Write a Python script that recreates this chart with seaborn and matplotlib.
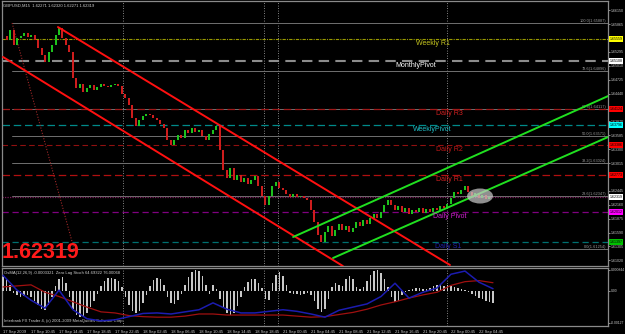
import matplotlib
matplotlib.use("Agg")
import matplotlib.pyplot as plt
import matplotlib.transforms as mtransforms
from matplotlib.patches import Ellipse
import numpy as np
import pandas as pd
import seaborn as sns

# ---------------- data ----------------
closes = [
    1.65620, 1.65538, 1.65743, 1.65436, 1.65579, 1.65620, 1.65682, 1.65600, 1.65641, 1.65538,
    1.65374, 1.65231, 1.65087, 1.65292, 1.65436, 1.65641, 1.65784, 1.65579, 1.65436, 1.65292,
    1.64759, 1.64554, 1.64636, 1.64472, 1.64554, 1.64616, 1.64513, 1.64575, 1.64636, 1.64595,
    1.64575, 1.64616, 1.64636, 1.64595, 1.64431, 1.64349, 1.64206, 1.63939, 1.63775, 1.63898,
    1.63980, 1.64021, 1.64001, 1.63939, 1.63898, 1.63816, 1.63734, 1.63488, 1.63386, 1.63488,
    1.63591, 1.63529, 1.63693, 1.63632, 1.63734, 1.63652, 1.63693, 1.63570, 1.63488, 1.63611,
    1.63693, 1.63775, 1.63283, 1.62873, 1.62709, 1.62914, 1.62668, 1.62771, 1.62627, 1.62709,
    1.62586, 1.62668, 1.62750, 1.62545, 1.62340, 1.62156, 1.62340, 1.62545, 1.62627, 1.62504,
    1.62463, 1.62381, 1.62320, 1.62381, 1.62320, 1.62340, 1.62299, 1.62258, 1.62053, 1.61807,
    1.61541, 1.61397, 1.61602, 1.61725, 1.61520, 1.61643, 1.61766, 1.61643, 1.61725, 1.61602,
    1.61684, 1.61807, 1.61725, 1.61848, 1.61766, 1.61889, 1.61971, 1.61889, 1.62012, 1.62156,
    1.62258, 1.62156, 1.62053, 1.62135, 1.62012, 1.62094, 1.61971, 1.62053, 1.62012, 1.62094,
    1.61992, 1.62074, 1.62012, 1.62094, 1.62053, 1.62135, 1.62094, 1.62176, 1.62299, 1.62422,
    1.62381, 1.62463, 1.62545, 1.62422, 1.62340, 1.62402, 1.62299, 1.62361, 1.62279, 1.62320,
    1.62319,
]
last_ohlc = [1.62271, 1.62320, 1.62271, 1.62319]

osma = [
    0.00056, 0.00048, 0.00024,
    -0.00008, -0.00016, -0.00024, -0.00020, -0.00016, -0.00024, -0.00040, -0.00056,
    -0.00072, -0.00076, -0.00056, -0.00024,
    0.00020, 0.00048, 0.00056, 0.00032,
    -0.00024, -0.00072, -0.00096, -0.00104, -0.00100, -0.00088, -0.00064, -0.00040, -0.00012,
    0.00020, 0.00040, 0.00052, 0.00052, 0.00048, 0.00040, 0.00016,
    -0.00024, -0.00056, -0.00080, -0.00088, -0.00080, -0.00048, -0.00016,
    0.00020, 0.00044, 0.00052, 0.00048, 0.00024,
    -0.00024, -0.00048, -0.00052, -0.00036, -0.00012,
    0.00024, 0.00056, 0.00076, 0.00084, 0.00080, 0.00060, 0.00024,
    -0.00012,
    0.00024, 0.00008,
    -0.00032, -0.00064, -0.00088, -0.00096, -0.00088, -0.00060, -0.00024,
    0.00016, 0.00036, 0.00048, 0.00048, 0.00032, 0.00012,
    -0.00032, -0.00036,
    0.00032, 0.00064, 0.00076, 0.00060, 0.00024,
    -0.00008, -0.00012, -0.00012, -0.00016, -0.00012, -0.00008, -0.00016,
    -0.00040, -0.00072, -0.00084, -0.00072, -0.00032,
    0.00016, 0.00032, 0.00024,
    0.00020, 0.00048, 0.00060, 0.00048, 0.00016,
    0.00008,
    0.00016, 0.00040, 0.00064, 0.00080, 0.00084, 0.00072, 0.00048, 0.00016,
    -0.00024, -0.00044, -0.00040, -0.00016,
    -0.00004, 0.00004,
    0.00008, 0.00012, 0.00012, 0.00008, 0.00008,
    0.00012, 0.00020, 0.00024, 0.00024, 0.00020, 0.00024, 0.00020, 0.00016, 0.00012, 0.00008, 0.00004,
    -0.00004, -0.00012, -0.00020, -0.00028, -0.00032, -0.00040, -0.00044, -0.00048,
]

stoch_idx = [0, 4, 8, 12, 16, 20, 24, 28, 32, 36, 40, 44, 48, 52, 56, 60, 64, 68,
             72, 76, 80, 84, 88, 92, 96, 100, 104, 108, 112, 116, 120, 124, 128, 132, 136, 140]
stoch_main = [90, 62, 43, 28, 62, 25, 8, 4, 6, 12, 18, 19, 17, 21, 25, 38, 26, 19,
              19, 22, 25, 22, 17, 11, 24, 30, 36, 50, 75, 47, 58, 66, 92, 98, 77, 64.69]
stoch_signal = [68, 70, 72, 58, 50, 40, 30, 21, 19, 14, 12, 11, 11, 13, 17, 17, 15, 15,
                15, 15, 15, 13, 11, 12, 16, 20, 26, 34, 40, 47, 53, 58, 71, 78, 80, 76.0]

time_labels = ["17 Sep 2009", "17 Sep 10:45", "17 Sep 14:45", "17 Sep 18:45", "17 Sep 22:45",
               "18 Sep 02:45", "18 Sep 06:45", "18 Sep 10:45", "18 Sep 14:45", "18 Sep 18:45",
               "21 Sep 00:45", "21 Sep 04:45", "21 Sep 08:45", "21 Sep 12:45", "21 Sep 16:45",
               "21 Sep 20:45", "22 Sep 00:45", "22 Sep 04:45"]
time_label_idx = [0, 8, 16, 24, 32, 40, 48, 56, 64, 72, 80, 88, 96, 104, 112, 120, 128, 136]

# ticks whose labels are not hidden behind the price boxes
price_ticks = [1.66150, 1.65865, 1.65295, 1.65010, 1.64725, 1.64440,
               1.63870, 1.63585, 1.63300, 1.63015, 1.62730, 1.62445, 1.62160, 1.61875,
               1.61590, 1.61305, 1.61020]
osma_ticks = [0.000844, 0.0, -0.00127]
osma_tick_labels = ["0.000844", "0.00", "-0.00127"]

pivot_names = ["Weekly R1", "MonthlyPivot", "Daily R3", "WeeklyPivot",
               "Daily R2", "Daily R1", "Daily Pivot", "Daily S1"]
pivot_prices = [1.65559, 1.65108, 1.64124, 1.63796, 1.63386, 1.62773, 1.62012, 1.61397]

fib_levels = ["100.0", "78.6", "61.8", "50.0", "38.2", "23.6", "0.0"]
fib_prices = [1.65887, 1.64896, 1.64117, 1.63571, 1.63024, 1.62347, 1.61254]
fib_anchor_idx = [2.6, 20.3]

last_price = 1.62319
red_channel = [[(15.7, 1.65804), (127.7, 1.60926)], [(0.0, 1.65190), (97.1, 1.60905)]]
green_channel = [[(82.9, 1.61500), (172.9, 1.64390)], [(94.3, 1.61069), (172.9, 1.63550)]]
session_marks = [34.3, 74.6, 78.6, 126.9]
ellipse_center = (136.3, 1.62340)
ellipse_size = (7.4, 0.00308)

# ---------------- style ----------------
sns.set_style("dark", {"axes.facecolor": "black", "figure.facecolor": "black"})
plt.rcParams["font.family"] = ["Liberation Sans", "DejaVu Sans"]

W, H = 625, 334
fig = plt.figure(figsize=(W / 100, H / 100), dpi=100, facecolor="black")
ax = fig.add_axes([2 / W, (H - 266) / H, 606 / W, 265 / H])
axi = fig.add_axes([2 / W, (H - 326) / H, 606 / W, 58 / H])

XMIN, XMAX = -0.286, 172.86
frame = "#8a8a8a"
for a in (ax, axi):
    a.set_facecolor("black")
    a.set_xlim(XMIN, XMAX)
    for s in a.spines.values():
        s.set_color(frame)
        s.set_linewidth(0.9)
    a.grid(False)

ax.set_ylim(1.60905, 1.66338)
axi.set_ylim(-0.0014, 0.00092)

# ---------------- main panel ----------------
df = pd.DataFrame({"i": np.arange(len(closes)), "close": closes})
df["open"] = df["close"].shift(1).fillna(df["close"])
df["lo"] = df[["open", "close"]].min(axis=1) - 0.00004
df["hi"] = df[["open", "close"]].max(axis=1) + 0.00004
df["col"] = np.where(df["close"] >= df["open"], "#1ec81e", "#d41e1e")
ax.vlines(df["i"], df["lo"], df["hi"], colors=df["col"], lw=1.4, zorder=4)

# fibonacci
for lvl, p in zip(fib_levels, fib_prices):
    ax.plot([fib_anchor_idx[0], XMAX], [p, p], color="#707070", lw=0.7, zorder=2)
    ax.text(XMAX - 0.4, p, f"{lvl}({p:.5f})", color="#9a9a9a", fontsize=2.8,
            ha="right", va="bottom", zorder=3)
ax.plot(fib_anchor_idx, [fib_prices[0], fib_prices[-1]], color="#a02828",
        ls=(0, (1, 1.5)), lw=0.8, zorder=3)

# pivots
piv_style = [
    ("#9a9a00", (0, (3, 1, 1, 1)), 0.8, "#c8c820", "#ffff00"),
    ("#8c8c8c", (0, (5, 3)), 1.5, "#ffffff", "#ffffff"),
    ("#a01818", (0, (6, 3)), 0.9, "#d02020", "#ff0000"),
    ("#008a8a", (0, (6, 3)), 0.9, "#20c0c8", "#00ffff"),
    ("#901010", (0, (5, 3)), 0.8, "#c01818", "#ff0000"),
    ("#b01010", (0, (6, 3)), 0.9, "#d02020", "#ff0000"),
    ("#800080", (0, (5, 3)), 0.9, "#d020d0", "#ff00ff"),
    ("#007070", (0, (5, 3)), 0.9, "#2020a8", "#00c000"),
]
label_x = [118.0, 112.0, 123.7, 117.1, 123.7, 123.7, 122.9, 123.4]
off = mtransforms.offset_copy(ax.transData, fig=fig, x=0, y=-1.2, units="dots")
for name, p, st, lx in zip(pivot_names, pivot_prices, piv_style, label_x):
    lc, ls, lw, tc, bc = st
    ax.axhline(p, color=lc, ls=ls, lw=lw, zorder=2)
    ax.text(lx, p, name, color=tc, fontsize=5, ha="left", va="top",
            transform=off, zorder=6)

ax.axhline(last_price, color="#7a1a5a", ls=(0, (1, 1)), lw=0.9, zorder=2)

# channels
for seg in red_channel:
    (x0, y0), (x1, y1) = seg
    ax.plot([x0, x1], [y0, y1], color="#ff1010", lw=1.4, zorder=5)
for seg in green_channel:
    (x0, y0), (x1, y1) = seg
    ax.plot([x0, x1], [y0, y1], color="#20e020", lw=1.4, zorder=5)

ax.add_patch(Ellipse(ellipse_center, ellipse_size[0], ellipse_size[1],
                     fc="#c8c8c8", ec="none", alpha=0.72, zorder=7))

for m in session_marks:
    ax.axvline(m, color="#b0b0b0", ls=(0, (1, 2)), lw=0.6, zorder=1)
    axi.axvline(m, color="#b0b0b0", ls=(0, (1, 2)), lw=0.6, zorder=1)

# axis ticks
ax.set_xticks([])
ax.yaxis.tick_right()
ax.set_yticks(price_ticks)
ax.set_yticklabels([f"{v:.5f}" for v in price_ticks])
ax.tick_params(axis="y", labelsize=2.6, colors="#c8c8c8", length=1.5, width=0.5, pad=0.8)

# price boxes at right
bt = mtransforms.blended_transform_factory(ax.transAxes, ax.transData)
box_prices = pivot_prices + [last_price]
box_cols = [s[4] for s in piv_style] + ["#ffffff"]
for p, c in zip(box_prices, box_cols):
    ax.text(1.0022, p, f"{p:.5f}", transform=bt, fontsize=2.6, color="black",
            ha="left", va="center", clip_on=False, zorder=10,
            bbox=dict(boxstyle="square,pad=0.2", fc=c, ec="none"))

# texts
fig.text(3 / W, 1 - 5.5 / H,
         "GBPUSD,M15  " + " ".join(f"{v:.5f}" for v in last_ohlc),
         color="#d0d0d0", fontsize=3, ha="left", va="center")
fig.text(2 / W, 1 - 252 / H, f"{last_price:.5f}", color="#ff1a1a", fontsize=15.5,
         fontweight="bold", ha="left", va="center")

# ---------------- indicator panel ----------------
axi.bar(np.arange(len(osma)), osma, width=0.55, color="#c8c8c8", linewidth=0, zorder=3)
axs = axi.twinx()
axs.set_xlim(XMIN, XMAX)
axs.set_ylim(-5.66, 103.77)
sdf = pd.DataFrame({"i": stoch_idx, "main": stoch_main, "signal": stoch_signal})
sns.lineplot(data=sdf, x="i", y="signal", ax=axs, color="#a01010", lw=0.9, zorder=4)
sns.lineplot(data=sdf, x="i", y="main", ax=axs, color="#1c1cb0", lw=1.1, zorder=5)
axs.set_yticks([])
axs.set_ylabel("")
axs.set_xlabel("")
for s in axs.spines.values():
    s.set_visible(False)
axs.grid(False)

axi.yaxis.tick_right()
axi.set_yticks(osma_ticks)
axi.set_yticklabels(osma_tick_labels)
axi.tick_params(axis="y", labelsize=2.4, colors="#c8c8c8", length=1.5, width=0.5, pad=0.8)
axi.set_xticks(time_label_idx)
axi.set_xticklabels(time_labels, ha="left")
axi.tick_params(axis="x", labelsize=3, colors="#c8c8c8", length=2, width=0.5, pad=1)

axi.text(0.003, 0.95, "OsMA(12,26,9) -0.0003321  Zero Lag Stoch 64.69322 76.00068",
         transform=axi.transAxes, color="#d0d0d0", fontsize=3, ha="left", va="top", zorder=8)
axi.text(0.003, 0.06, "Interbank FX Trader 4, (c) 2001-2009 MetaQuotes Software Corp.",
         transform=axi.transAxes, color="#d0d0d0", fontsize=3, ha="left", va="bottom", zorder=8)

fig.savefig("out.png", dpi=100, facecolor="black")
